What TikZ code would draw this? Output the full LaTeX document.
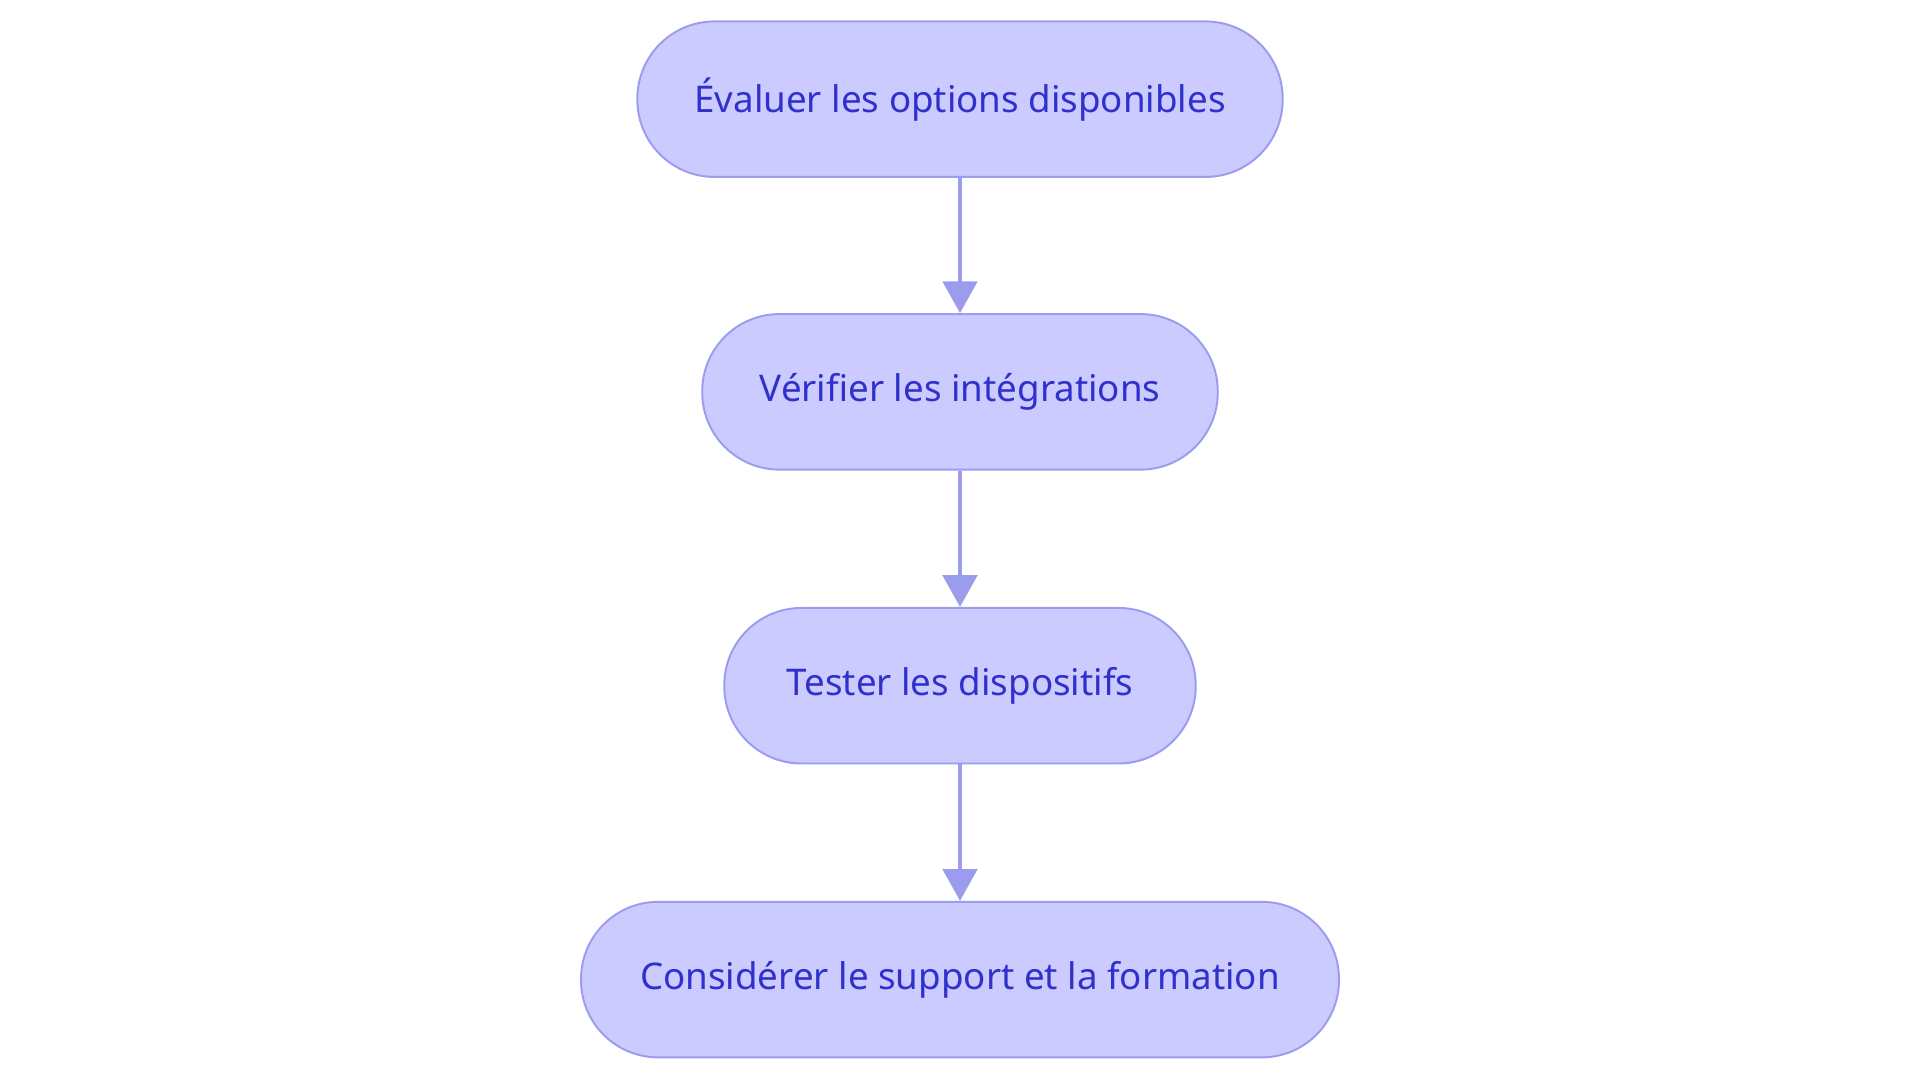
\documentclass[tikz,border=0pt]{standalone}
\usepackage{fontspec}
\setmainfont{Noto Sans}
\usetikzlibrary{arrows.meta}
\definecolor{nfill}{HTML}{CBCBFF}
\definecolor{nline}{HTML}{9C9CEE}
\definecolor{ntext}{HTML}{3030CC}
\begin{document}
\begin{tikzpicture}[x=1pt,y=-1pt,
  box/.style={draw=nline,fill=nfill,line width=1.6pt,rounded corners=63pt,minimum height=127pt,text=ntext,font=\fontsize{30}{36}\selectfont,inner sep=0pt},
  arr/.style={draw=nline,line width=3.5pt,-{Triangle[length=26pt,width=28pt]}}]
\useasboundingbox (0,0) rectangle (1568,884);
\node[box,minimum width=527pt] (a) at (784,81) {Évaluer les options disponibles};
\node[box,minimum width=421pt] (b) at (784,320) {Vérifier les intégrations};
\node[box,minimum width=385pt] (c) at (784,560) {Tester les dispositifs};
\node[box,minimum width=619pt] (d) at (784,800) {Considérer le support et la formation};
\draw[arr] (a) -- (b);
\draw[arr] (b) -- (c);
\draw[arr] (c) -- (d);
\end{tikzpicture}
\end{document}
